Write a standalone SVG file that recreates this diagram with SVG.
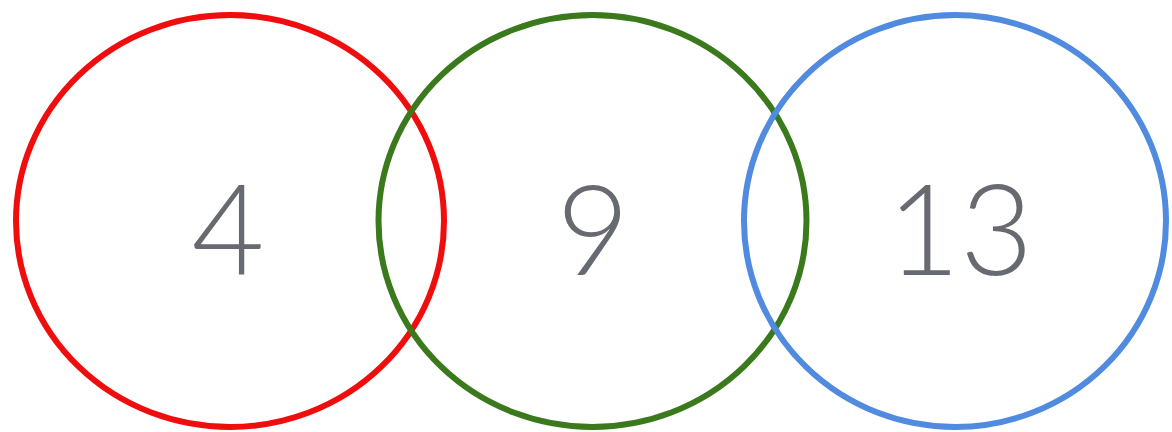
<svg xmlns="http://www.w3.org/2000/svg" width="1172" height="432" viewBox="0 0 1172 432">
<style>
.ring{fill:none;stroke-width:6}
.num{font-family:Lato,"Open Sans","Liberation Sans",sans-serif;font-weight:300;font-size:126px;fill:#676a70;text-anchor:middle}
</style>
<rect width="1172" height="432" fill="#fff"/>
<g id="node-4">
<ellipse class="ring" cx="230" cy="221" rx="214" ry="206" stroke="#f00d0d"/>
<text class="num" x="228" y="275">4</text>
</g>
<g id="node-9">
<ellipse class="ring" cx="592.5" cy="221" rx="214" ry="206" stroke="#3a7a1c"/>
<text class="num" x="593" y="275">9</text>
</g>
<g id="node-13">
<ellipse class="ring" cx="955" cy="221" rx="211" ry="206" stroke="#508be0"/>
<text class="num" x="960" y="275">13</text>
</g>
<g id="connectors"/>
</svg>
